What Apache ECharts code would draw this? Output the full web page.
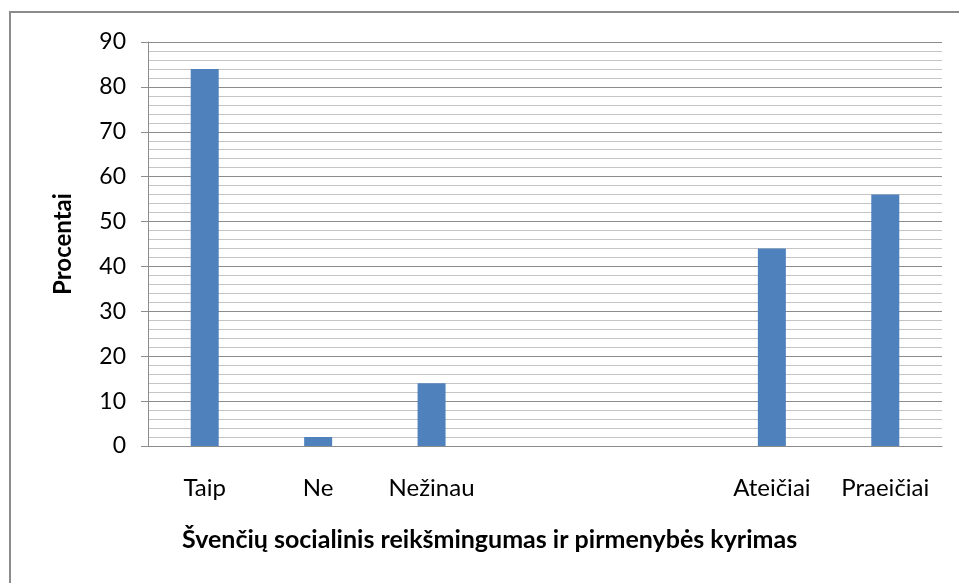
<!DOCTYPE html>
<html>
<head>
<meta charset="utf-8">
<script src="https://cdn.jsdelivr.net/npm/echarts@6/dist/echarts.min.js"></script>
<style>
html,body{margin:0;padding:0;background:#fff;}
#chart{width:959px;height:583px;}
</style>
</head>
<body>
<div id="chart"></div>
<script>
const categories = ['Taip', 'Ne', 'Nežinau', '', '', 'Ateičiai', 'Praeičiai'];
const values = [84, 2, 14, null, null, 44, 56];
const yTicks = { min: 0, max: 90, interval: 10 };
const yAxisTitle = 'Procentai';
const xAxisTitle = 'Švenčių socialinis reikšmingumas ir pirmenybės kyrimas';

const chart = echarts.init(document.getElementById('chart'));
chart.setOption({
  animation: false,
  backgroundColor: '#fff',
  textStyle: { fontFamily: 'Lato' },
  grid: { left: 148, right: 17, top: 42, bottom: 137 },
  graphic: [
    { type: 'rect', shape: { x: 10, y: 12, width: 1000, height: 700 },
      style: { fill: 'none', stroke: '#8c8c8c', lineWidth: 2 }, silent: true },
    { type: 'text', left: 182, top: 527,
      style: { text: xAxisTitle, font: 'bold 25px Lato', fill: '#000' } }
  ],
  xAxis: {
    type: 'category',
    data: categories,
    axisLine: { show: true, lineStyle: { color: '#8c8c8c', width: 1 } },
    axisTick: { show: false },
    axisLabel: { color: '#000', fontSize: 24, fontFamily: 'Lato', margin: 30, interval: 0 },
    splitLine: { show: false }
  },
  yAxis: {
    type: 'value',
    min: yTicks.min, max: yTicks.max, interval: yTicks.interval,
    name: yAxisTitle,
    nameLocation: 'middle',
    nameGap: 73,
    nameTextStyle: { color: '#000', fontSize: 24, fontWeight: 'bold', fontFamily: 'Lato' },
    axisLine: { show: true, lineStyle: { color: '#8c8c8c', width: 1 } },
    axisTick: { show: true, length: 7, inside: false, lineStyle: { color: '#8c8c8c' } },
    minorTick: { show: false, splitNumber: 5 },
    axisLabel: { color: '#000', fontSize: 23, fontFamily: 'Lato', margin: 22 },
    splitLine: { show: true, lineStyle: { color: '#8c8c8c', width: 1 } },
    minorSplitLine: { show: true, lineStyle: { color: '#c4c4c4', width: 1 } }
  },
  series: [{
    type: 'bar',
    data: values,
    barWidth: 28,
    itemStyle: { color: '#4F81BD' }
  }]
});
</script>
</body>
</html>
